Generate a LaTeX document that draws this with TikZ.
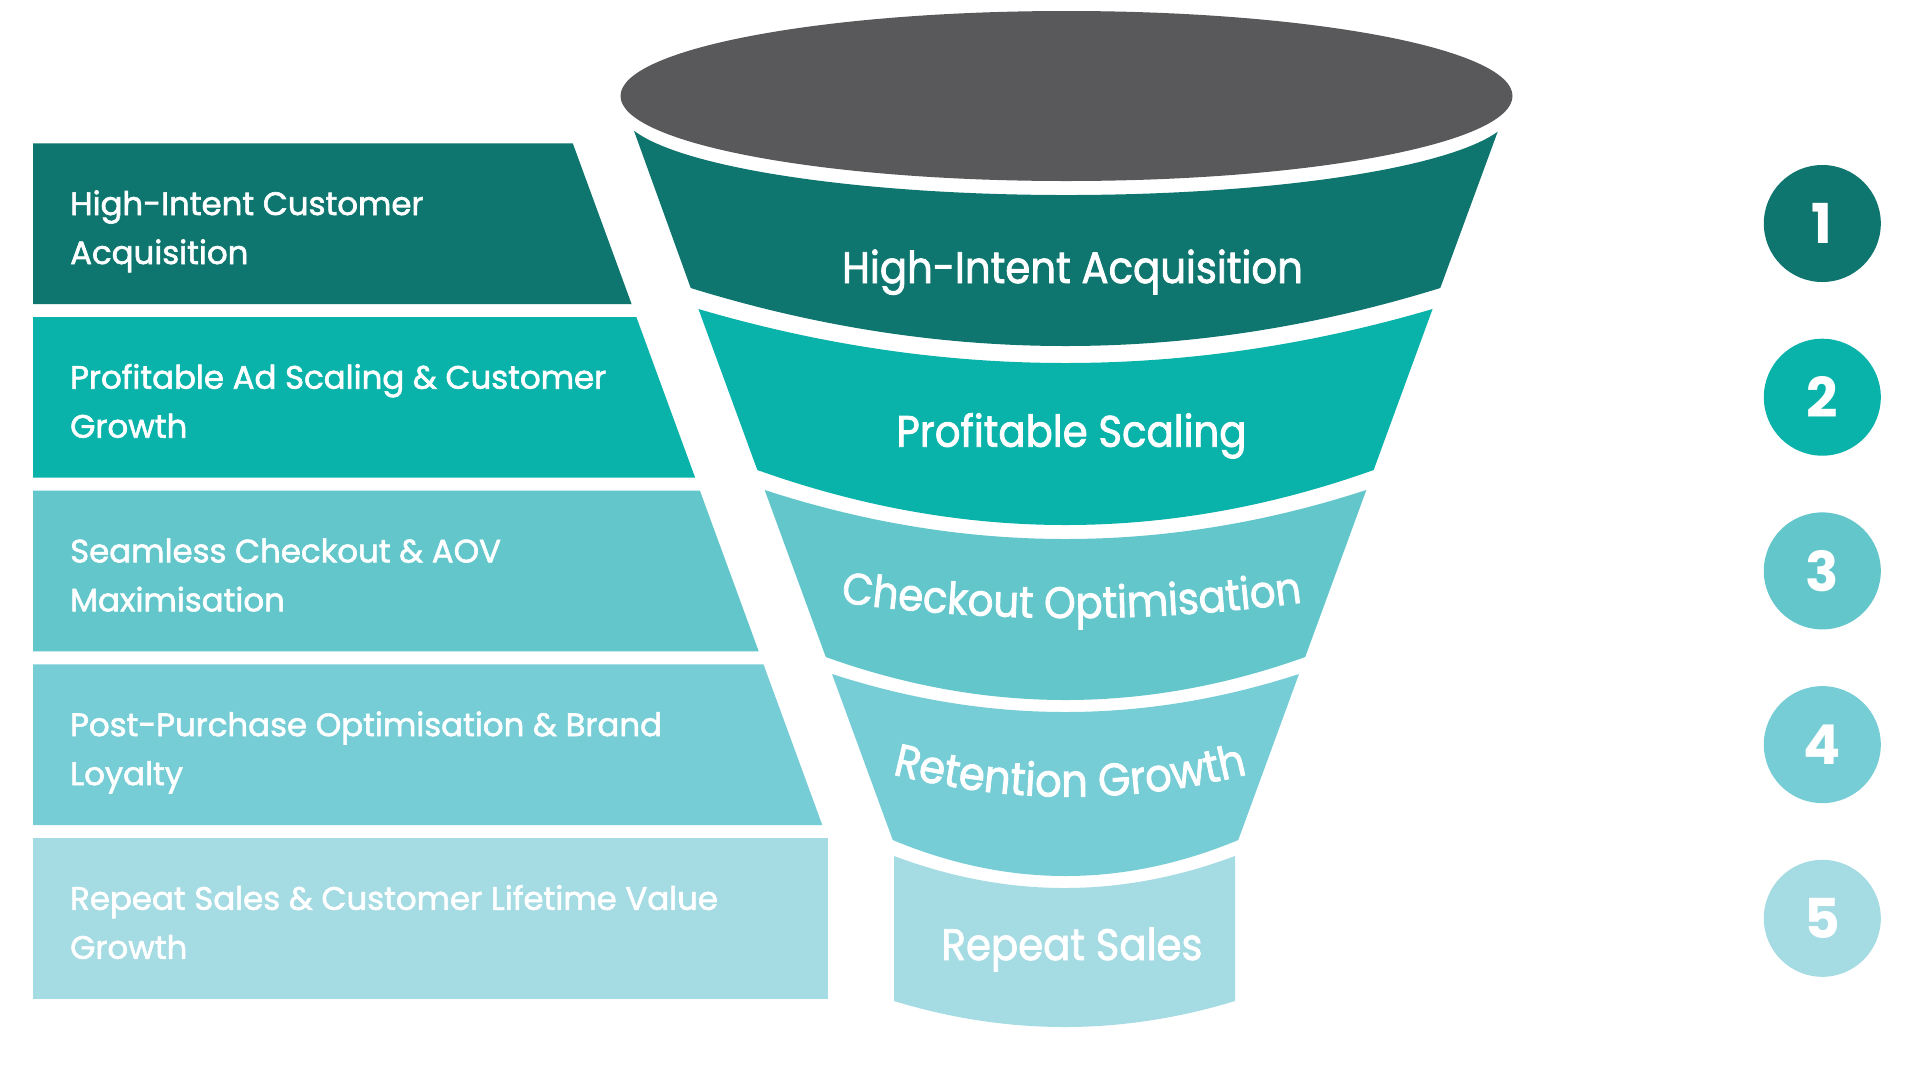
\documentclass[tikz,border=0pt]{standalone}
\usepackage{fontspec}
\setmainfont{Poppins}
\newfontfamily\pfont[FakeBold=1.8]{Poppins}
\newfontfamily\ffont[FakeBold=1.8,FakeStretch=0.915]{Poppins}
\newfontfamily\dfont{Poppins}
\usetikzlibrary{decorations.text}
\definecolor{gry}{HTML}{59595B}
\definecolor{tA}{HTML}{0E766E}
\definecolor{tB}{HTML}{0AB3AA}
\definecolor{tC}{HTML}{63C6CB}
\definecolor{tD}{HTML}{76CDD5}
\definecolor{tE}{HTML}{A5DBE3}
\tikzset{
  paneltext/.style={anchor=base west, inner sep=0pt, text=white, font=\pfont\fontsize{32.4}{49}\selectfont},
  funneltext/.style={anchor=base, inner sep=0pt, text=white, font=\ffont\fontsize{44}{50}\selectfont},
  numdot/.style={circle, inner sep=0pt, minimum size=117pt, text=white, font=\dfont\bfseries\fontsize{55}{60}\selectfont},
}
% left panel with slanted right edge parallel to the funnel side
\newcommand\panelshape[2]{%
  \pgfmathsetmacro\pnT{#2}%
  \pgfmathsetmacro\pnB{#2+160.7}%
  \pgfmathsetmacro\pxT{569+0.366*(\pnT-133)}%
  \pgfmathsetmacro\pxB{569+0.366*(\pnB-133)}%
  \fill[#1] (33,-\pnT) -- (\pxT,-\pnT) -- (\pxB,-\pnB) -- (33,-\pnB) -- cycle;}
% funnel band: colour, top corner y, top centre y, bottom corner y, bottom centre y
\newcommand\funnelband[5]{%
  \pgfmathsetmacro\hwT{431.5-0.366*(#2-133)}%
  \pgfmathsetmacro\hwB{431.5-0.366*(#4-133)}%
  \pgfmathsetmacro\cyT{-#2-4/3*(#3-#2)}%
  \pgfmathsetmacro\cyB{-#4-4/3*(#5-#4)}%
  \fill[#1] ({1065.5-\hwT},-#2) .. controls ({1065.5-\hwT/3},\cyT) and ({1065.5+\hwT/3},\cyT) .. ({1065.5+\hwT},-#2)
    -- ({1065.5+\hwB},-#4) .. controls ({1065.5+\hwB/3},\cyB) and ({1065.5-\hwB/3},\cyB) .. ({1065.5-\hwB},-#4) -- cycle;}
\begin{document}
\begin{tikzpicture}[x=1pt,y=1pt]
\useasboundingbox (0,0) rectangle (1920,-1080);
\fill[white] (0,0) rectangle (1920,-1080);

% ---- left panels
\panelshape{tA}{143.3}
\panelshape{tB}{317.0}
\panelshape{tC}{490.7}
\panelshape{tD}{664.4}
\fill[tE] (33,-838.1) rectangle (828,-998.8);

\node[paneltext] (p1) at (70,-215.0) {\vtop{\hbox{High-Intent Customer}\hbox{Acquisition}}};
\node[paneltext] (p2) at (70,-388.7) {\vtop{\hbox{Profitable Ad Scaling \& Customer}\hbox{Growth}}};
\node[paneltext] (p3) at (70,-562.4) {\vtop{\hbox{Seamless Checkout \& AOV}\hbox{Maximisation}}};
\node[paneltext] (p4) at (70,-736.1) {\vtop{\hbox{Post-Purchase Optimisation \& Brand}\hbox{Loyalty}}};
\node[paneltext] (p5) at (70,-909.8) {\vtop{\hbox{Repeat Sales \& Customer Lifetime Value}\hbox{Growth}}};

% ---- funnel
\fill[gry] (1066.5,-96) ellipse[x radius=446, y radius=85];

\pgfmathsetmacro\hwA{431.5-0.366*(288-133)}
\fill[tA] (1066.5,-110) ++(194.1:446 and 85)
  arc[start angle=194.1, end angle=345.2, x radius=446, y radius=85]
  -- ({1065.5+\hwA},-288) .. controls ({1065.5+\hwA/3},{-288-4/3*58}) and ({1065.5-\hwA/3},{-288-4/3*58}) .. ({1065.5-\hwA},-288) -- cycle;
\funnelband{tB}{309}{363}{470}{525}
\funnelband{tC}{490}{539}{657}{700}
\funnelband{tD}{674}{712}{840}{876}
\fill[tE] (894,-856) .. controls ({1064.5-170.5/3},{-856-4/3*32}) and ({1064.5+170.5/3},{-856-4/3*32}) .. (1235,-856)
  -- (1235,-1001) .. controls ({1064.5+170.5/3},{-1001-4/3*26}) and ({1064.5-170.5/3},{-1001-4/3*26}) .. (894,-1001) -- cycle;

\node[funneltext] (f1) at (1072.5,-283) {High-Intent Acquisition};
\node[funneltext] (f2) at (1071.5,-446.7) {Profitable Scaling};
\path[decorate, decoration={text along path, text align=center,
  text={|\ffont\fontsize{44}{50}\selectfont\color{white}|Checkout Optimisation}}]
  (800,-596.5) .. controls (981,-625.2) and (1162,-625.2) .. (1343,-596.5);
\path[decorate, decoration={text along path, text align=center,
  text={|\ffont\fontsize{45.5}{50}\selectfont\color{white}|Retention Growth}}]
  (870,-768.3) .. controls (1003.3,-806.2) and (1136.7,-806.2) .. (1270,-768.3);
\node[funneltext] (f5) at (1072,-960) {Repeat Sales};

% ---- numbered circles
\node[numdot, fill=tA] (n1) at (1822.3,-223.5) {1};
\node[numdot, fill=tB] (n2) at (1822.3,-397.2) {2};
\node[numdot, fill=tC] (n3) at (1822.3,-570.9) {3};
\node[numdot, fill=tD] (n4) at (1822.3,-744.6) {4};
\node[numdot, fill=tE] (n5) at (1822.3,-918.3) {5};
\end{tikzpicture}
\end{document}
